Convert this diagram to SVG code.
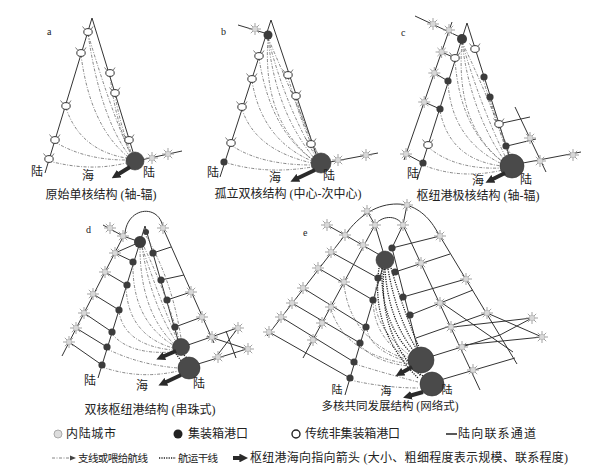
<svg xmlns="http://www.w3.org/2000/svg" width="605" height="474" viewBox="0 0 605 474">
<style>
.ln{stroke:#333;stroke-width:1;fill:none}
.rt{stroke:#666;stroke-width:0.8;fill:none;stroke-dasharray:3 1.5 1 1.5}
.tr{stroke:#222;stroke-width:1.3;fill:none;stroke-dasharray:1.2 1.2}
.hub{fill:#4a4a4a;stroke:#333;stroke-width:0.6}
.dk{fill:#3c3c3c}
.ar{stroke:#2a2a2a;stroke-width:4;fill:none;marker-end:url(#ah)}
.t{font-family:"Liberation Serif","Noto Sans CJK SC",serif;fill:#222}
.cap{font-size:12px;text-anchor:middle}
.lb{font-size:12px;text-anchor:middle}
.lbs{font-size:11px;text-anchor:middle}
.pl{font-size:10px}
.lg{font-size:12px}
.lg2{font-size:10.5px}
</style>
<defs>
<marker id="ah" viewBox="0 0 10 10" refX="3" refY="5" markerWidth="2.2" markerHeight="2.2" orient="auto"><path d="M0,0 L10,5 L0,10 z" fill="#2a2a2a"/></marker>
<g id="st"><path d="M-6,0H6M0,-6V6M-4.2,-4.2L4.2,4.2M-4.2,4.2L4.2,-4.2" stroke="#999" stroke-width="0.9"/><circle r="2.8" fill="#d8d8d8" stroke="#aaa" stroke-width="0.6"/></g>
<g id="op"><path d="M-3,-2.5L-5.5,-5.5M3,-2.5L5,-5.5" stroke="#444" stroke-width="0.7"/><ellipse rx="4.2" ry="3.4" fill="#fff" stroke="#333" stroke-width="1"/></g>
<circle id="dn" r="3.6" fill="#3c3c3c"/>
</defs>
<rect width="605" height="474" fill="#fff"/>

<!-- Panel a -->
<g id="panel-a">
<text class="t pl" x="47" y="35">a</text>
<g id="conn-a">
<path class="ln" d="M92,18 L45,173 M92,18 L133,152 M141,160 L182,151"/>
<path class="rt" d="M88,34 Q100,115 128,154 M88,34 Q110,108 130,153 M81,55 Q90,125 127,156 M66,108 Q80,150 126,158 M55,142 Q85,160 126,160 M49,161 Q90,172 126,163 M110,75 Q115,120 130,152 M115,95 Q120,125 131,152"/>
</g>
<g id="nodes-a">
<use href="#op" x="88" y="32"/><use href="#op" x="81" y="53"/><use href="#op" x="66" y="106"/><use href="#op" x="55" y="140"/><use href="#op" x="49" y="159"/>
<use href="#op" x="110" y="73"/><use href="#op" x="115" y="93"/><use href="#op" x="129" y="140"/>
<use href="#st" x="152" y="158"/><use href="#st" x="168" y="154"/>
<circle id="hub-a" class="hub" cx="135" cy="161" r="9"/>
</g>
<path class="ar" d="M130,167 L117,175"/>
<text class="t lb" x="37" y="176">陆</text><text class="t lb" x="88" y="180">海</text><text class="t lb" x="149" y="177">陆</text>
<text class="t cap" x="101" y="199">原始单核结构 (轴-辐)</text>
</g>

<!-- Panel b -->
<g id="panel-b">
<text class="t pl" x="221" y="35">b</text>
<g id="conn-b">
<path class="ln" d="M271,20 L220,177 M271,20 L316,154 M238,25 L268,34 M330,162 L378,153"/>
<path class="rt" d="M268,38 Q275,110 314,158 M268,38 Q285,105 316,157 M268,38 Q295,100 318,155 M268,38 Q262,120 313,160 M259,58 Q270,130 313,160 M252,81 Q262,140 312,161 M242,109 Q255,150 312,163 M231,145 Q260,165 312,165 M224,162 Q265,175 312,167 M288,77 Q300,120 316,155 M296,98 Q305,130 318,154"/>
</g>
<g id="nodes-b">
<use href="#st" x="255" y="29"/><use href="#st" x="338" y="160"/><use href="#st" x="366" y="155"/>
<circle cx="268" cy="35" r="4.5" class="dk"/>
<use href="#op" x="259" y="56"/><use href="#op" x="252" y="79"/><use href="#op" x="242" y="107"/><use href="#op" x="231" y="143"/>
<use href="#dn" x="224" y="162"/>
<use href="#op" x="288" y="75"/><use href="#op" x="296" y="96"/><use href="#op" x="311" y="144"/>
<circle id="hub-b" class="hub" cx="321" cy="163" r="10"/>
</g>
<path class="ar" d="M315,170 L296,179"/>
<text class="t lb" x="213" y="177">陆</text><text class="t lb" x="275" y="182">海</text><text class="t lb" x="329" y="180">陆</text>
<text class="t cap" x="288" y="198">孤立双核结构 (中心-次中心)</text>
</g>

<!-- Panel c -->
<g id="panel-c">
<text class="t pl" x="401" y="36">c</text>
<g id="conn-c">
<path class="ln" d="M467,23 L417,180 M467,23 L509,155 M452,22 L404,160 M415,16 L462,38 M441.6,52 L455,58 M434.3,73 L448,81 M424.2,102 L440,109 M406,154 L423,163 M515,107 L546,172 M498,124 L530,117 M507,146 L536,139 M523,163 L581,152"/>
<path class="rt" d="M462,42 Q470,110 504,160 M462,42 Q480,105 506,158 M462,42 Q490,100 509,155 M462,42 Q455,125 503,162 M455,60 Q460,130 503,162 M448,83 Q452,140 502,164 M440,111 Q450,160 502,166 M428,147 Q455,170 502,168 M423,165 Q460,180 503,170 M483,79 Q495,120 508,154 M490,99 Q500,130 510,153"/>
</g>
<g id="nodes-c">
<use href="#st" x="433" y="24"/><use href="#st" x="449" y="30"/><use href="#st" x="441.6" y="52"/><use href="#st" x="434.3" y="73"/><use href="#st" x="424.2" y="102"/><use href="#st" x="406" y="154"/>
<use href="#st" x="530" y="138"/><use href="#st" x="540" y="161"/><use href="#st" x="573" y="155"/>
<circle cx="462" cy="39" r="5" class="dk"/>
<use href="#op" x="455" y="58"/><use href="#dn" x="448" y="81"/><use href="#dn" x="440" y="109"/><use href="#op" x="428" y="145"/><use href="#dn" x="423" y="163"/>
<use href="#op" x="475" y="49"/><use href="#dn" x="484" y="77"/><use href="#dn" x="490" y="97"/><use href="#op" x="499" y="124"/><use href="#dn" x="506" y="146"/>
<circle id="hub-c" class="hub" cx="512" cy="166" r="12"/>
</g>
<path class="ar" d="M505,173 L491,180"/>
<text class="t lb" x="413" y="178">陆</text><text class="t lb" x="478" y="185">海</text><text class="t lb" x="526" y="184">陆</text>
<text class="t cap" x="478" y="200">枢纽港极核结构 (轴-辐)</text>
</g>

<!-- Panel d -->
<g id="panel-d">
<text class="t pl" x="86" y="233">d</text>
<g id="conn-d">
<path class="ln" d="M125,233 L62,356 M145,226 L98,378 M125,233 C128,206 160,204 163,228 M163,228 L214,343 M145,226 L178,340
M115,253 L134,262 M105,272 L127,285 M93,294 L119,310 M84,313 L112,332 M76,328 L107,347 M69,342 L102,365
M123,236 L140,242 M115,253 L140,242 M103,225 L123,236
M153,253 L171,247 M161,280 L184,275 M167,300 L191,292 M175,327 L202,317
M188,345 L240,327 M198,364 L250,348 M207,336 L250,350 M216,357 L238,328 M226,331 L236,358"/>
<path class="rt" d="M142,247 Q150,300 175,340 M142,247 Q158,295 177,339 M144,247 Q165,290 179,339 M140,247 Q140,310 173,343 M146,236 Q172,280 181,338 M133,264 Q132,320 173,345 M126,287 Q128,335 173,348 M119,312 Q125,345 172,350 M112,334 Q130,355 172,352 M107,349 Q140,365 178,368 M102,367 Q140,380 178,371"/>
<path class="tr" d="M176,354 L182,362 M184,355 L188,359"/>
</g>
<g id="nodes-d">
<use href="#st" x="110" y="228"/><use href="#st" x="123" y="236"/><use href="#st" x="115" y="253"/><use href="#st" x="105" y="272"/><use href="#st" x="93" y="294"/><use href="#st" x="84" y="313"/><use href="#st" x="76" y="328"/><use href="#st" x="69" y="342"/>
<use href="#st" x="163" y="228"/><use href="#st" x="191" y="292"/><use href="#st" x="202" y="317"/><use href="#st" x="212" y="337"/><use href="#st" x="238" y="328"/><use href="#st" x="248" y="349"/><use href="#st" x="218" y="357"/>
<circle cx="146" cy="232" r="3" class="dk"/><circle cx="140" cy="242" r="6" class="dk"/>
<use href="#dn" x="133" y="262"/><use href="#dn" x="127" y="285"/><use href="#dn" x="119" y="310"/><use href="#dn" x="112" y="332"/><use href="#dn" x="107" y="347"/><use href="#dn" x="102" y="365"/>
<use href="#dn" x="153" y="253"/><use href="#dn" x="161" y="280"/><use href="#dn" x="167" y="300"/><use href="#dn" x="175" y="327"/>
<circle id="hub-d1" class="hub" cx="181" cy="347" r="8.5"/>
<circle id="hub-d2" class="hub" cx="189" cy="368" r="11"/>
</g>
<path class="ar" d="M176,351 L162,357"/>
<path class="ar" d="M181,375 L164,383"/>
<text class="t lb" x="90" y="385">陆</text><text class="t lb" x="142" y="390">海</text><text class="t lb" x="199" y="388">陆</text>
<text class="t cap" x="150" y="414">双核枢纽港结构 (串珠式)</text>
</g>

<!-- Panel e -->
<g id="panel-e">
<text class="t pl" x="303" y="236">e</text>
<g id="conn-e">
<path class="ln" d="M267,336 L345,235 C360,214 378,204 397,204 C414,204 427,215 435,228 L517,364
M303,358 L375,225 C381,216 396,214 403,225 L480,390
M385,260 L345,395 M392,248 L420,358
M345,235 L385,258 M331,252 L378,278 M318,268 L373,300 M303,288 L366,327 M292,303 L360,343 M281,317 L354,362 M269,332 L350,378
M392,248 L440,236 M395,272 L450,254 M403,297 L466,279 M410,315 L473,290 M416,338 L487,313 M420,360 L500,335 M430,383 L515,358
M327,225 L345,235 M367,211 L375,225 M407,205 L403,225 M375,225 L385,258 M403,225 L392,248
M453,327 L532,318 M463,345 L542,337 M442,303 L513,352 M487,313 L542,337 M500,335 L532,318"/>
<path class="rt" d="M373,302 Q375,340 409,358 M367,329 Q370,350 408,362 M360,345 Q375,362 408,366 M355,364 Q380,372 418,382 M350,380 Q385,388 419,388 M378,280 Q365,320 408,354 M344,284 Q350,340 408,360 M331,309 Q345,355 410,364"/>
<path class="tr" d="M382,268 Q380,320 410,352 M385,269 Q388,318 413,350 M388,269 Q396,315 416,348 M391,268 Q404,312 419,347 M379,268 Q370,330 418,378 M384,269 Q378,335 421,376 M414,370 L423,376"/>
</g>
<g id="nodes-e">
<use href="#st" x="327" y="225"/><use href="#st" x="345" y="235"/><use href="#st" x="331" y="252"/><use href="#st" x="318" y="268"/><use href="#st" x="303" y="288"/><use href="#st" x="292" y="303"/><use href="#st" x="281" y="317"/><use href="#st" x="269" y="332"/>
<use href="#st" x="367" y="211"/><use href="#st" x="407" y="205"/><use href="#st" x="440" y="236"/><use href="#st" x="466" y="279"/><use href="#st" x="487" y="313"/>
<use href="#st" x="375" y="225"/><use href="#st" x="403" y="225"/><use href="#st" x="363" y="245"/><use href="#st" x="344" y="282"/><use href="#st" x="331" y="307"/><use href="#st" x="322" y="323"/><use href="#st" x="313" y="340"/>
<use href="#st" x="421" y="263"/><use href="#st" x="440" y="303"/><use href="#st" x="451" y="327"/><use href="#st" x="462" y="347"/><use href="#st" x="473" y="370"/>
<use href="#st" x="532" y="318"/><use href="#st" x="542" y="337"/>
<use href="#dn" x="392" y="248"/><use href="#dn" x="378" y="278"/><use href="#dn" x="395" y="272"/><use href="#dn" x="373" y="300"/><use href="#dn" x="366" y="327"/><use href="#dn" x="360" y="343"/><use href="#dn" x="354" y="362"/><use href="#dn" x="350" y="378"/>
<use href="#dn" x="403" y="297"/><use href="#dn" x="410" y="315"/>
<circle id="hub-e0" class="hub" cx="385" cy="260" r="9"/>
<circle id="hub-e1" class="hub" cx="421" cy="360" r="13"/>
<circle id="hub-e2" class="hub" cx="432" cy="384" r="12"/>
</g>
<path class="ar" d="M412,367 L401,373"/>
<path class="ar" d="M423,392 L409,396"/>
<text class="t lbs" x="337" y="394">陆</text><text class="t lbs" x="386" y="395">海</text><text class="t lbs" x="447" y="394">陆</text>
<text class="t cap" x="390" y="410" style="font-size:11.5px">多核共同发展结构 (网络式)</text>
</g>

<!-- Legend -->
<g id="legend">
<circle cx="58" cy="434" r="4" fill="#ddd" stroke="#aaa" stroke-width="1"/>
<text class="t lg" x="66" y="438" textLength="50">内陆城市</text>
<circle cx="178" cy="434" r="4.5" fill="#222"/>
<text class="t lg" x="188" y="438" textLength="60">集装箱港口</text>
<circle cx="296" cy="434" r="4" fill="#fff" stroke="#222" stroke-width="1.4"/>
<text class="t lg" x="305" y="438" textLength="95">传统非集装箱港口</text>
<line x1="446" y1="434" x2="457" y2="434" stroke="#222" stroke-width="1.5"/>
<text class="t lg" x="458" y="438" textLength="78">陆向联系通道</text>
<path class="rt" d="M52,458 H70"/><path d="M70,455.5 L76,458 L70,460.5z" fill="#444"/>
<text class="t lg2" x="78" y="462" textLength="70">支线或喂给航线</text>
<path class="tr" d="M159,458 H176"/>
<text class="t lg2" x="178" y="462" textLength="40">航运干线</text>
<path class="ar" d="M233,458 H242"/>
<text class="t lg" x="250" y="462" textLength="318">枢纽港海向指向箭头 (大小、粗细程度表示规模、联系程度)</text>
</g>
</svg>
